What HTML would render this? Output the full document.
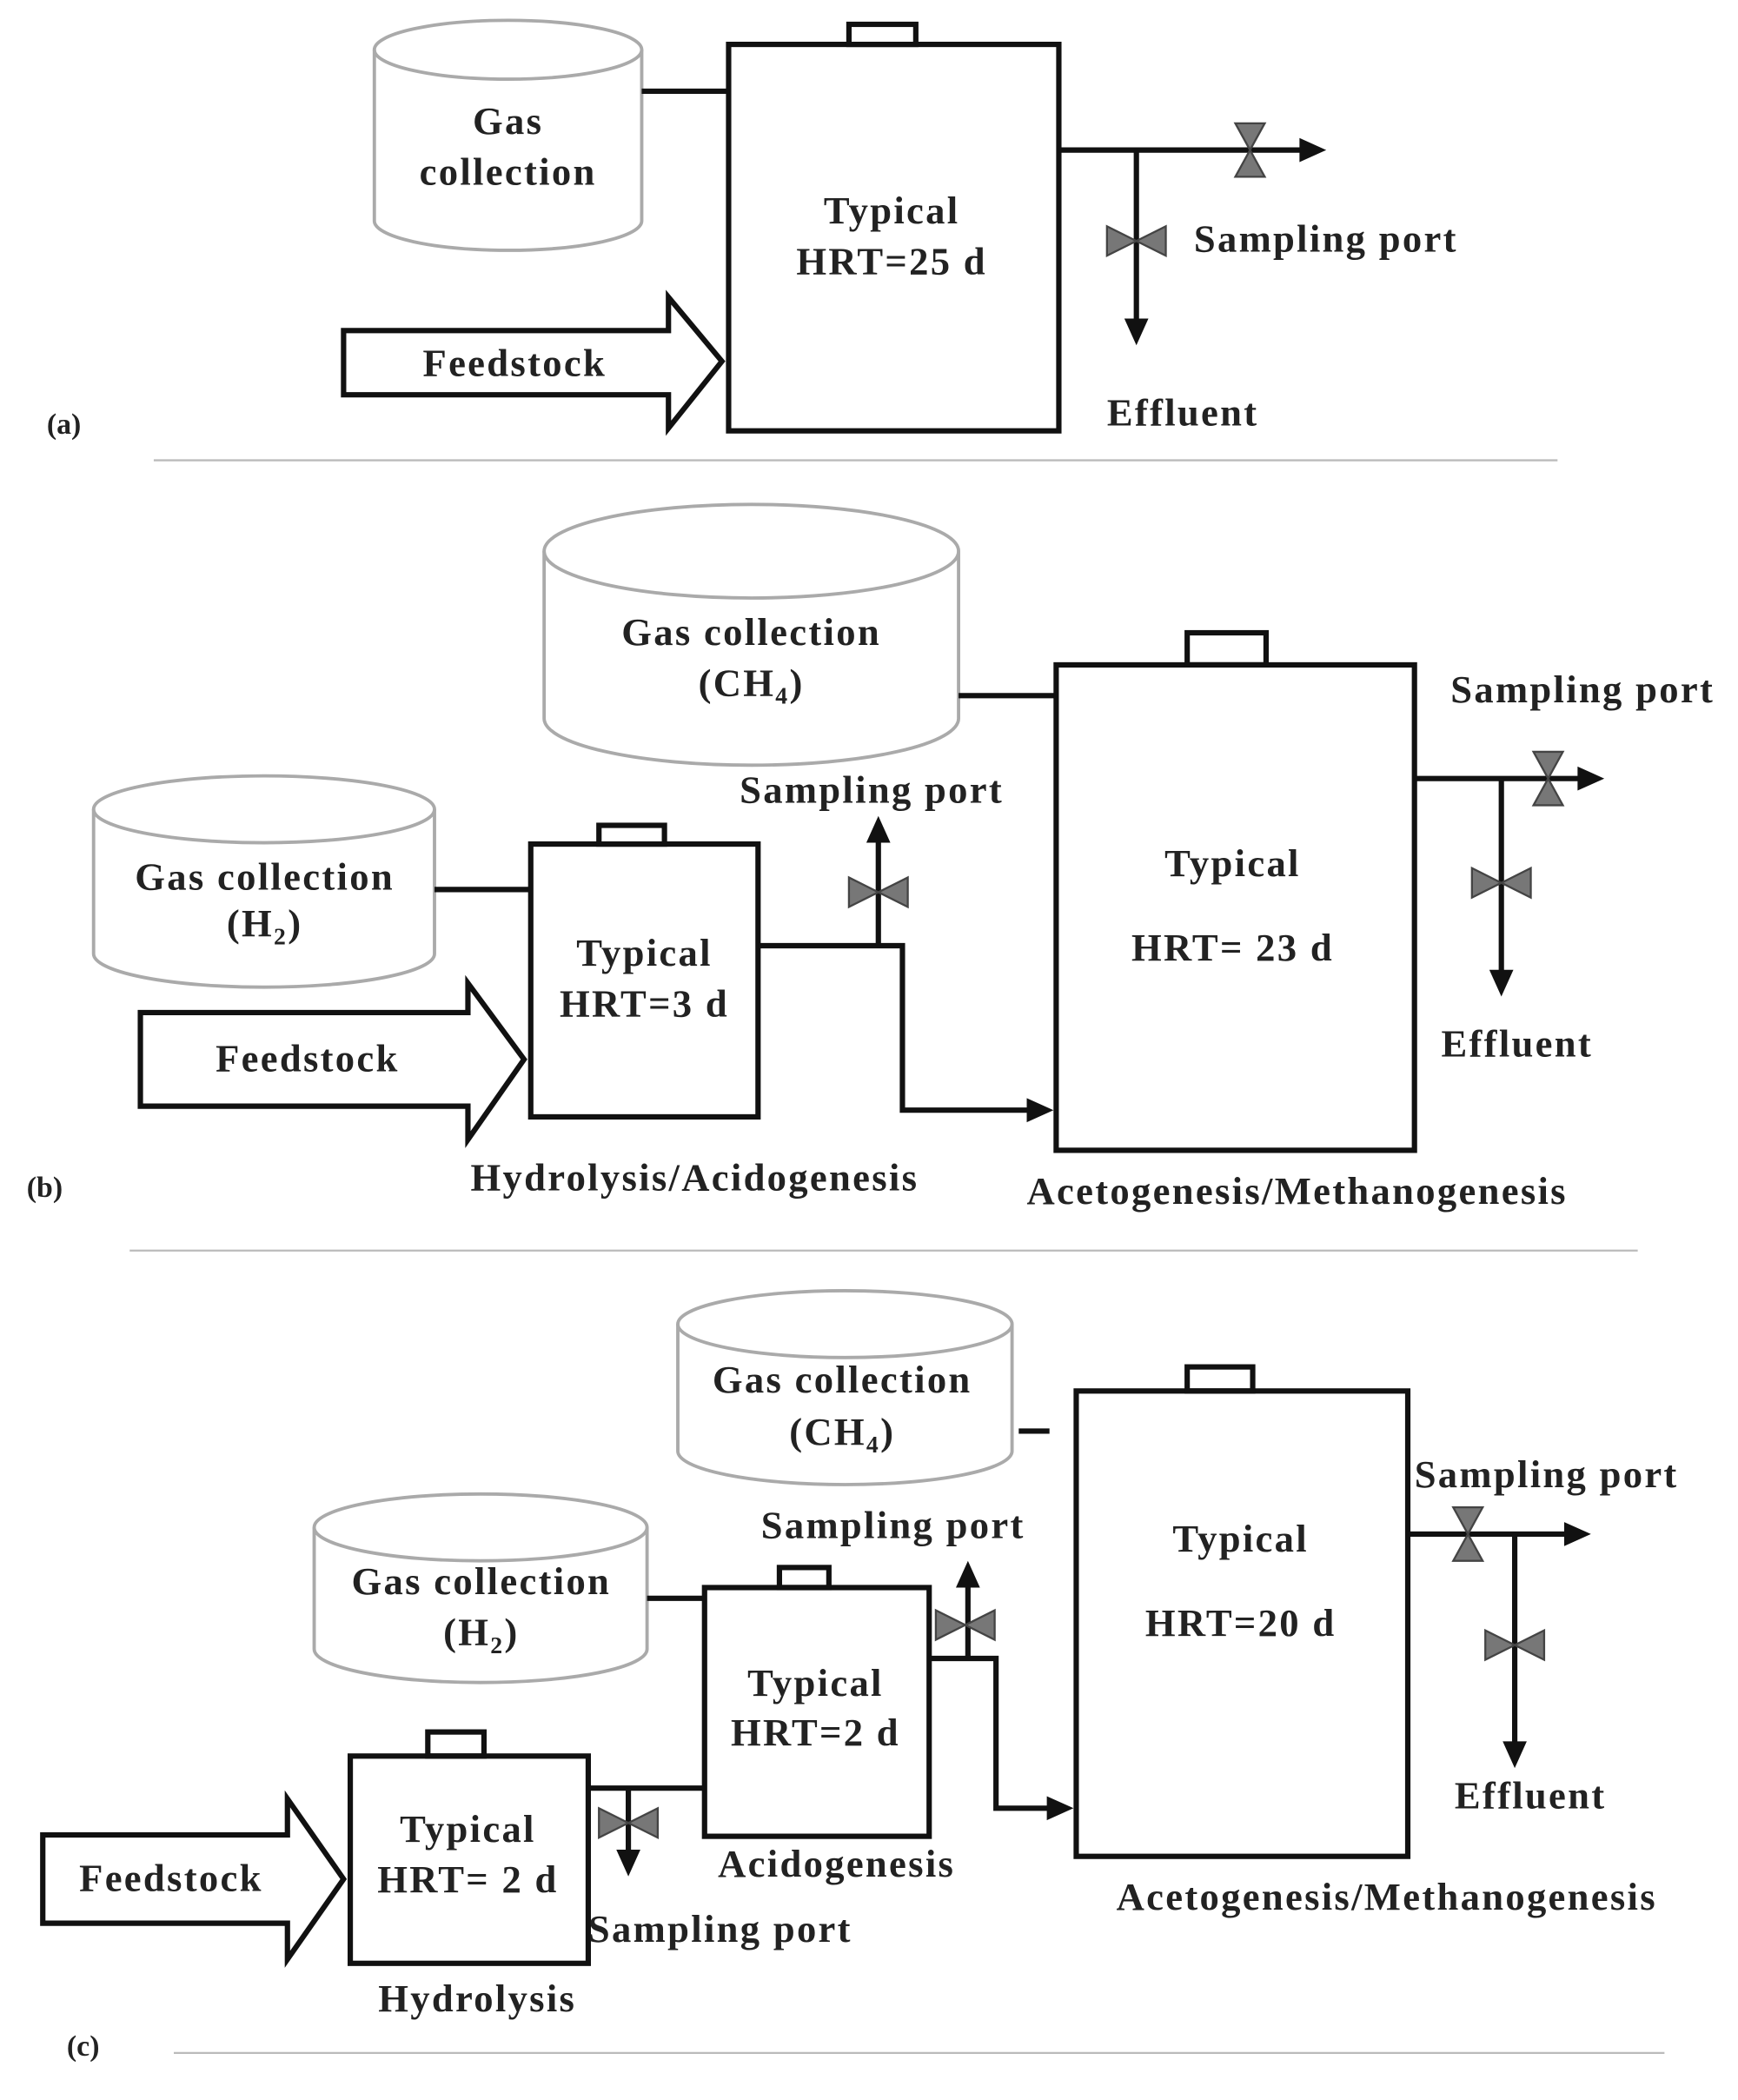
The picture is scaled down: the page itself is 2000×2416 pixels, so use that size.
<!DOCTYPE html>
<html><head><meta charset="utf-8"><style>
html,body{margin:0;padding:0;background:#fff}
svg{display:block}
text{font-family:"Liberation Serif",serif;font-weight:bold;font-size:29px;letter-spacing:1.5px;fill:#222}
.c{text-anchor:middle}
</style></head><body>
<svg width="2000" height="2416" viewBox="0 0 1300 1570" xmlns="http://www.w3.org/2000/svg">
<defs>
<g id="vv"><polygon points="-11,-20 11,-20 0,0" fill="#777" stroke="#444" stroke-width="1.5"/><polygon points="-11,20 11,20 0,0" fill="#777" stroke="#444" stroke-width="1.5"/></g>
<g id="vh"><polygon points="-22,-11 -22,11 0,0" fill="#777" stroke="#444" stroke-width="1.5"/><polygon points="22,-11 22,11 0,0" fill="#777" stroke="#444" stroke-width="1.5"/></g>
</defs>
<g fill="none" stroke="#111" stroke-width="4">
<path d="M280 37 V165 A100 22 0 0 0 480 165 V37" stroke="#aaa" stroke-width="2.5"/>
<ellipse cx="380" cy="37" rx="100" ry="22" stroke="#aaa" stroke-width="2.5"/>
<line x1="480" y1="68" x2="545" y2="68"/>
<rect x="545" y="33" width="247" height="289"/>
<rect x="635" y="18" width="50" height="15"/>
<polygon points="257,247 500,247 500,222 540,270 500,320 500,295 257,295" fill="#fff"/>
<line x1="792" y1="112" x2="975" y2="112"/>
<line x1="850" y1="112" x2="850" y2="245"/>
<path d="M407 412 V537 A155 35 0 0 0 717 537 V412" stroke="#aaa" stroke-width="2.5"/>
<ellipse cx="562" cy="412" rx="155" ry="35" stroke="#aaa" stroke-width="2.5"/>
<line x1="717" y1="520" x2="790" y2="520"/>
<rect x="790" y="497" width="268" height="363"/>
<rect x="888" y="473" width="59" height="24"/>
<line x1="1058" y1="582" x2="1185" y2="582"/>
<line x1="1123" y1="582" x2="1123" y2="730"/>
<path d="M70 605 V713 A127.5 25 0 0 0 325 713 V605" stroke="#aaa" stroke-width="2.5"/>
<ellipse cx="197.5" cy="605" rx="127.5" ry="25" stroke="#aaa" stroke-width="2.5"/>
<line x1="325" y1="665" x2="397" y2="665"/>
<rect x="397" y="631" width="170" height="204"/>
<rect x="448" y="617" width="49" height="14"/>
<polygon points="105,757 350,757 350,735 392,792 350,852 350,827 105,827" fill="#fff"/>
<polyline points="567,707 675,707 675,830 775,830"/>
<line x1="657" y1="707" x2="657" y2="622"/>
<path d="M507 990 V1085 A125 25 0 0 0 757 1085 V990" stroke="#aaa" stroke-width="2.5"/>
<ellipse cx="632" cy="990" rx="125" ry="25" stroke="#aaa" stroke-width="2.5"/>
<line x1="762" y1="1070" x2="785" y2="1070"/>
<rect x="805" y="1040" width="248" height="348"/>
<rect x="888" y="1022" width="49" height="18"/>
<line x1="1053" y1="1147" x2="1175" y2="1147"/>
<line x1="1133" y1="1147" x2="1133" y2="1310"/>
<path d="M235 1142 V1233 A124.5 25 0 0 0 484 1233 V1142" stroke="#aaa" stroke-width="2.5"/>
<ellipse cx="359.5" cy="1142" rx="124.5" ry="25" stroke="#aaa" stroke-width="2.5"/>
<line x1="484" y1="1195" x2="527" y2="1195"/>
<rect x="527" y="1187" width="168" height="186"/>
<rect x="583" y="1172" width="37" height="15"/>
<polyline points="695,1240 745,1240 745,1352 790,1352"/>
<line x1="724" y1="1240" x2="724" y2="1180"/>
<rect x="262" y="1313" width="178" height="155"/>
<rect x="320" y="1295" width="42" height="18"/>
<polygon points="32,1372 215,1372 215,1345 257,1405 215,1465 215,1438 32,1438" fill="#fff"/>
<line x1="440" y1="1337" x2="527" y2="1337"/>
<line x1="470" y1="1337" x2="470" y2="1392"/>
</g>
<g fill="#111">
<polygon points="992,112 972,103 972,121"/>
<polygon points="850,258 841,238 859,238"/>
<polygon points="1200,582 1180,573 1180,591"/>
<polygon points="1123,745 1114,725 1132,725"/>
<polygon points="788,830 768,821 768,839"/>
<polygon points="657,610 648,630 666,630"/>
<polygon points="1190,1147 1170,1138 1170,1156"/>
<polygon points="1133,1322 1124,1302 1142,1302"/>
<polygon points="803,1352 783,1343 783,1361"/>
<polygon points="724,1167 715,1187 733,1187"/>
<polygon points="470,1403 461,1383 479,1383"/>
</g>
<use href="#vv" x="935" y="112"/>
<use href="#vh" x="850" y="180"/>
<use href="#vv" x="1158" y="582"/>
<use href="#vh" x="1123" y="660"/>
<use href="#vh" x="657" y="667"/>
<use href="#vv" x="1098" y="1147"/>
<use href="#vh" x="1133" y="1230"/>
<use href="#vh" x="722" y="1215"/>
<use href="#vh" x="470" y="1363"/>
<g stroke="#bbb" stroke-width="1.5">
<line x1="115" y1="344" x2="1165" y2="344"/>
<line x1="97" y1="935" x2="1225" y2="935"/>
<line x1="130" y1="1535" x2="1245" y2="1535"/>
</g>
<text class="c" x="380" y="100">Gas</text>
<text class="c" x="380" y="138">collection</text>
<text class="c" x="667" y="167">Typical</text>
<text class="c" x="667" y="205">HRT=25 d</text>
<text class="c" x="385" y="281">Feedstock</text>
<text x="893" y="188">Sampling port</text>
<text x="828" y="318">Effluent</text>
<text x="35" y="324" style="font-size:22px;letter-spacing:0">(a)</text>

<text class="c" x="562" y="482">Gas collection</text>
<text class="c" x="562" y="520">(CH<tspan style="font-size:18px" dy="6">4</tspan><tspan dy="-6">)</tspan></text>
<text class="c" x="922" y="655">Typical</text>
<text class="c" x="922" y="718">HRT= 23 d</text>
<text x="1085" y="525">Sampling port</text>
<text x="1078" y="790">Effluent</text>
<text class="c" x="198" y="665">Gas collection</text>
<text class="c" x="198" y="700">(H<tspan style="font-size:18px" dy="6">2</tspan><tspan dy="-6">)</tspan></text>
<text class="c" x="482" y="722">Typical</text>
<text class="c" x="482" y="760">HRT=3 d</text>
<text class="c" x="230" y="801">Feedstock</text>
<text class="c" x="652" y="600">Sampling port</text>
<text x="352" y="890">Hydrolysis/Acidogenesis</text>
<text x="768" y="900">Acetogenesis/Methanogenesis</text>
<text x="20" y="895" style="font-size:22px;letter-spacing:0">(b)</text>

<text class="c" x="630" y="1041">Gas collection</text>
<text class="c" x="630" y="1080">(CH<tspan style="font-size:18px" dy="6">4</tspan><tspan dy="-6">)</tspan></text>
<text class="c" x="928" y="1160">Typical</text>
<text class="c" x="928" y="1223">HRT=20 d</text>
<text x="1058" y="1112">Sampling port</text>
<text x="1088" y="1352">Effluent</text>
<text class="c" x="360" y="1192">Gas collection</text>
<text class="c" x="360" y="1230">(H<tspan style="font-size:18px" dy="6">2</tspan><tspan dy="-6">)</tspan></text>
<text class="c" x="610" y="1268">Typical</text>
<text class="c" x="610" y="1305">HRT=2 d</text>
<text class="c" x="668" y="1150">Sampling port</text>
<text x="537" y="1403">Acidogenesis</text>
<text x="835" y="1428">Acetogenesis/Methanogenesis</text>
<text class="c" x="350" y="1377">Typical</text>
<text class="c" x="350" y="1415">HRT= 2 d</text>
<text class="c" x="128" y="1414">Feedstock</text>
<text x="440" y="1452">Sampling port</text>
<text class="c" x="357" y="1504">Hydrolysis</text>
<text x="50" y="1537" style="font-size:22px;letter-spacing:0">(c)</text>
</svg>
</body></html>
